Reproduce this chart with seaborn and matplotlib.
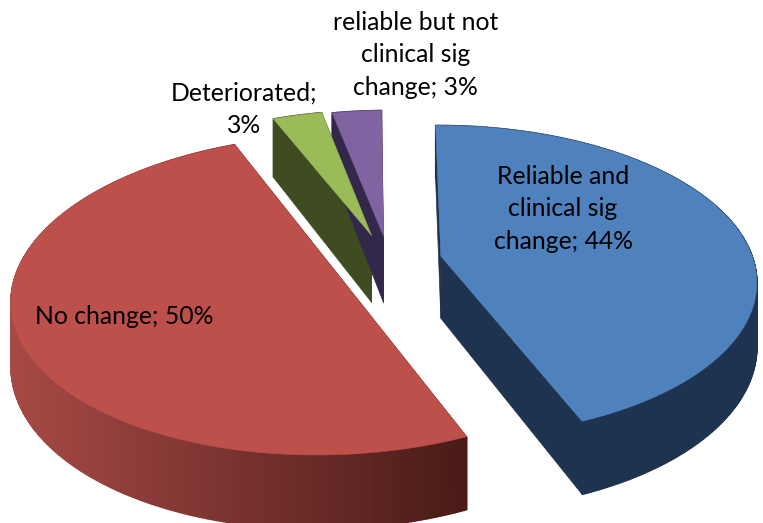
import numpy as np
import matplotlib
matplotlib.use("Agg")
import matplotlib.pyplot as plt
import seaborn as sns

categories = ["Reliable and clinical sig change", "No change", "Deteriorated", "reliable but not clinical sig change"]
values = [44, 50, 3, 3]
explode = [0.157, 0.20, 0.19, 0.18]
nudge_x = [-0.002, -0.006, -0.016, -0.013]
nudge_y = [-0.008, 0.02, -0.02, -0.02]
twist = [0.0, -1.5, -1.0, -1.0]
depth = [62.0, 61.0, 68.0, 68.0]
top_colors = ["#4f81bd", "#be504c", "#9bbb59", "#8064a2"]
side_left = ["#1e3350", "#a84a46", "#3f4c22", "#33284a"]
side_right = ["#1e3350", "#4a1b17", "#3f4c22", "#33284a"]
labels = ["Reliable and\nclinical sig\nchange; 44%", "No change; 50%", "Deteriorated;\n3%",
          "reliable but not\nclinical sig\nchange; 3%"]
label_pos = [(563, 209), (124, 316), (244, 109), (415.5, 55)]

sns.set_theme(style="white")
plt.rcParams["font.family"] = ["Lato", "DejaVu Sans"]

W, H = 763, 523
fig = plt.figure(figsize=(W / 100, H / 100), dpi=100)
ax = fig.add_axes([0, 0, 1, 1])
ax.set_xlim(0, W)
ax.set_ylim(H, 0)
ax.axis("off")

# perspective camera
Vx, Vy, D, p, R = 420.0, -688.0, 940.0, 0.16, 310.0
cx0, cy0 = -0.085, -0.05
start = -0.5


def project(X, Y, z=0.0):
    s = 1.0 / (1.0 + p * Y)
    return Vx + X * R * s, Vy + (D + z) * s


def hex2rgb(c):
    return np.array(matplotlib.colors.to_rgb(c))


edges = start + np.cumsum([0] + values) * 3.6
slices = []
for i in range(len(values)):
    a0, a1 = edges[i] + twist[i], edges[i + 1] + twist[i]
    mid = np.radians((a0 + a1) / 2)
    slices.append((i, a0, a1,
                   cx0 + explode[i] * np.sin(mid) + nudge_x[i],
                   cy0 + explode[i] * np.cos(mid) + nudge_y[i]))

for i, a0, a1, cx, cy in [slices[3], slices[2], slices[0], slices[1]]:
    th = np.radians(np.linspace(a0, a1, max(int(a1 - a0) * 2, 8)))
    X = cx + np.sin(th)
    Y = cy + np.cos(th)
    height = depth[i]
    # cut faces
    for ex, ey in [(X[0], Y[0]), (X[-1], Y[-1])]:
        q = [project(cx, cy), project(ex, ey), project(ex, ey, height), project(cx, cy, height)]
        ax.fill(*zip(*q), color=side_right[i], lw=0.5, zorder=1 + i * 0.01)
    # outer wall, far to near
    order = np.argsort(-Y[:-1])
    top_x, _ = project(X, Y)
    lo, hi = 10.0, 465.0
    for j in order:
        q = [project(X[j], Y[j]), project(X[j + 1], Y[j + 1]),
             project(X[j + 1], Y[j + 1], height), project(X[j], Y[j], height)]
        f = np.clip((top_x[j] - lo) / (hi - lo), 0, 1)
        col = (1 - f) * hex2rgb(side_left[i]) + f * hex2rgb(side_right[i])
        ax.fill(*zip(*q), color=col, lw=1.0, zorder=1.5)
    # top face
    px, py = project(np.r_[cx, X], np.r_[cy, Y])
    ax.fill(px, py, color=top_colors[i], lw=0.3, zorder=2)

for (x, y), t in zip(label_pos, labels):
    ax.text(x, y, t, ha="center", va="center", fontsize=17.8, color="black",
            linespacing=1.5, zorder=5)

fig.savefig("out.png", dpi=100)
